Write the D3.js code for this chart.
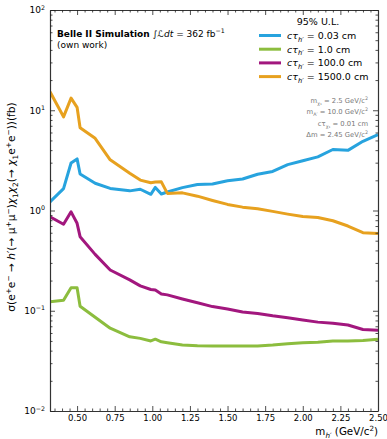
<!DOCTYPE html>
<html><head><meta charset="utf-8">
<script src="https://cdn.jsdelivr.net/npm/d3@7"></script>
<style>body{margin:0;background:#fff} svg{display:block} text{font-family:"DejaVu Sans",sans-serif;fill:#000}</style>
</head><body><svg id="c" width="387" height="439"></svg>
<script>
// ---- data ----
const masses   = [0.32,0.41,0.46,0.50,0.52,0.62,0.72,0.85,0.92,0.99,1.02,1.06,1.10,1.20,1.30,1.40,1.50,1.60,1.70,1.80,1.90,2.00,2.10,2.20,2.30,2.40,2.50];
const ul_0p03  = [1.22,1.65,2.98,3.27,2.31,1.87,1.66,1.57,1.63,1.45,1.70,1.46,1.53,1.69,1.82,1.84,1.98,2.06,2.30,2.45,2.87,3.13,3.43,4.06,3.98,4.90,5.70];
const ul_1p0   = [0.123,0.127,0.170,0.170,0.111,0.086,0.067,0.055,0.053,0.050,0.052,0.049,0.048,0.0456,0.0447,0.0445,0.0445,0.0445,0.0446,0.0455,0.0468,0.048,0.0485,0.0498,0.050,0.0505,0.052];
const ul_100   = [0.867,0.73,0.97,0.745,0.548,0.365,0.255,0.203,0.177,0.163,0.161,0.147,0.144,0.131,0.120,0.110,0.104,0.097,0.094,0.089,0.085,0.081,0.077,0.075,0.072,0.065,0.064];
const ul_1500  = [15.3,8.6,13.2,10.7,6.7,5.25,3.2,2.35,2.01,1.89,1.92,1.93,1.48,1.50,1.39,1.26,1.15,1.08,1.04,0.98,0.92,0.87,0.85,0.79,0.70,0.60,0.59];
const ctauLabels = ["0.03","1.0","100.0","1500.0"];
const seriesValues = [ul_0p03, ul_1p0, ul_100, ul_1500];
const colors = ["#27a3de","#8cbd3e","#a2177e","#e7a11f"];
const xTicks = [0.50,0.75,1.00,1.25,1.50,1.75,2.00,2.25,2.50];
const yTickExps = [-2,-1,0,1,2];

// ---- layout ----
const L=50,R=378,T=10,B=411;
const svg=d3.select("#c");
const x=d3.scaleLinear().domain([0.32,2.5]).range([L,R]);
const y=d3.scaleLog().domain([0.01,100]).range([B,T]);

function rich(text, segs, fs){
  let cur=0;
  segs.forEach(sg=>{
    const target = sg.s==='sup'? -0.42*fs : sg.s==='sub'? 0.28*fs : 0;
    const ts=text.append('tspan').text(sg.t).attr('dy', target-cur);
    if(sg.s) ts.attr('font-size', fs*0.7);
    if(sg.i) ts.attr('font-style','italic');
    if(sg.b) ts.attr('font-weight','bold');
    cur=target;
  });
}

// curves
svg.append("clipPath").attr("id","cp").append("rect").attr("x",L).attr("y",T).attr("width",R-L).attr("height",B-T);
const line=d3.line().x((d,i)=>x(masses[i])).y(d=>y(d));
seriesValues.forEach((vals,k)=>{
  svg.append("path").datum(vals).attr("d",line).attr("fill","none")
    .attr("stroke",colors[k]).attr("stroke-width",3).attr("stroke-linejoin","round")
    .attr("clip-path","url(#cp)");
});

// axes
const minorX=d3.range(0.35,2.5001,0.05).filter(v=>!xTicks.some(t=>Math.abs(t-v)<1e-6));
const minorY=[];
for(let e=-2;e<2;e++) for(let m=2;m<=9;m++) minorY.push(m*Math.pow(10,e));
const majY=yTickExps.map(e=>Math.pow(10,e));

function styleAxis(g){ g.selectAll("path.domain").attr("stroke","#333").attr("stroke-width",1.2); g.selectAll("line").attr("stroke","#222").attr("stroke-width",0.8); }

const gxB=svg.append("g").attr("transform",`translate(0,${B})`).call(d3.axisBottom(x).tickValues(xTicks).tickSizeInner(-5).tickSizeOuter(0).tickPadding(4).tickFormat(d3.format(".2f")));
gxB.selectAll("text").attr("font-size",8.5).attr("font-family","DejaVu Sans").attr("fill","#000");
svg.append("g").attr("transform",`translate(0,${B})`).call(d3.axisBottom(x).tickValues(minorX).tickSizeInner(-2.5).tickSizeOuter(0).tickFormat("")).call(g=>g.select(".domain").remove());
svg.append("g").attr("transform",`translate(0,${T})`).call(d3.axisTop(x).tickValues(xTicks).tickSizeInner(-5).tickSizeOuter(0).tickFormat(""));
svg.append("g").attr("transform",`translate(0,${T})`).call(d3.axisTop(x).tickValues(minorX).tickSizeInner(-2.5).tickSizeOuter(0).tickFormat("")).call(g=>g.select(".domain").remove());

svg.append("g").attr("transform",`translate(${L},0)`).call(d3.axisLeft(y).tickValues(majY).tickSizeInner(-5).tickSizeOuter(0).tickFormat(""));
svg.append("g").attr("transform",`translate(${L},0)`).call(d3.axisLeft(y).tickValues(minorY).tickSizeInner(-2.5).tickSizeOuter(0).tickFormat("")).call(g=>g.select(".domain").remove());
svg.append("g").attr("transform",`translate(${R},0)`).call(d3.axisRight(y).tickValues(majY).tickSizeInner(-5).tickSizeOuter(0).tickFormat(""));
svg.append("g").attr("transform",`translate(${R},0)`).call(d3.axisRight(y).tickValues(minorY).tickSizeInner(-2.5).tickSizeOuter(0).tickFormat("")).call(g=>g.select(".domain").remove());
svg.selectAll("g").call(styleAxis);

// y tick labels 10^n
yTickExps.forEach(e=>{
  const t=svg.append("text").attr("x",45).attr("y",y(Math.pow(10,e))+3.3).attr("text-anchor","end").attr("font-size",9);
  rich(t,[{t:"10"},{t:(e<0?"\u2212":"")+Math.abs(e),s:'sup'}],9);
});

// x label
const xl=svg.append("text").attr("x",R).attr("y",435).attr("text-anchor","end").attr("font-size",10.3);
rich(xl,[{t:"m"},{t:"h\u2032",s:'sub',i:true},{t:" (GeV/c"},{t:"2",s:'sup'},{t:")"}],10.3);

// y label
const yl=svg.append("text").attr("transform","translate(15,207) rotate(-90)").attr("text-anchor","middle").attr("font-size",10.6);
rich(yl,[{t:"\u03c3(e"},{t:"+",s:'sup'},{t:"e"},{t:"\u2212",s:'sup'},{t:" \u2192 "},{t:"h\u2032",i:true},{t:"(\u2192 \u03bc"},{t:"+",s:'sup'},{t:"\u03bc"},{t:"\u2212",s:'sup'},{t:")"},
  {t:"\u03c7",i:true},{t:"1",s:'sub'},{t:"\u03c7",i:true},{t:"2",s:'sub'},{t:"(\u2192 "},{t:"\u03c7",i:true},{t:"1",s:'sub'},{t:"e"},{t:"+",s:'sup'},{t:"e"},{t:"\u2212",s:'sup'},{t:"))(fb)"}],10.6);

// header
const h=svg.append("text").attr("x",57).attr("y",37).attr("font-size",9);
rich(h,[{t:"Belle II Simulation ",b:true},{t:"\u222b",i:true},{t:"\u2112",i:true},{t:"dt",i:true},{t:" = 362 fb"},{t:"\u22121",s:'sup'}],9);
svg.append("text").attr("x",57).attr("y",48).attr("font-size",9).text("(own work)");

// legend
svg.append("text").attr("x",318).attr("y",25).attr("text-anchor","middle").attr("font-size",9.5).text("95% U.L.");
ctauLabels.forEach((lab,k)=>{
  const yy=35.5+k*13.7;
  svg.append("line").attr("x1",259).attr("x2",281).attr("y1",yy).attr("y2",yy).attr("stroke",colors[k]).attr("stroke-width",3);
  const t=svg.append("text").attr("x",287).attr("y",yy+3.5).attr("font-size",9.5);
  rich(t,[{t:"c\u03c4",i:true},{t:"h\u2032",s:'sub',i:true},{t:" = "+lab+" cm"}],9.5);
});

// parameters
const params=[
  [{t:"m"},{t:"\u03c7\u2081",s:'sub'},{t:" = 2.5 GeV/c"},{t:"2",s:'sup'}],
  [{t:"m"},{t:"A\u2032",s:'sub'},{t:" = 10.0 GeV/c"},{t:"2",s:'sup'}],
  [{t:"c\u03c4"},{t:"\u03c7\u2081",s:'sub'},{t:" = 0.01 cm"}],
  [{t:"\u0394m = 2.45 GeV/c"},{t:"2",s:'sup'}]
];
params.forEach((p,k)=>{
  const t=svg.append("text").attr("x",368).attr("y",103+k*11.3).attr("text-anchor","end").attr("font-size",6.8).style("fill","#777");
  rich(t,p,6.8);
});
</script></body></html>
